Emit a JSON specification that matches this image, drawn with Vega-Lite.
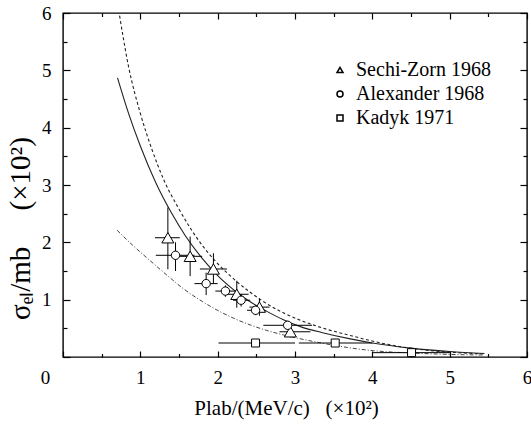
{
  "$schema": "https://vega.github.io/schema/vega-lite/v6.json",
  "width": 464,
  "height": 344,
  "autosize": {"type": "none"},
  "padding": {"left": 63, "top": 13, "right": 4, "bottom": 68},
  "background": "white",
  "config": {
    "view": {"stroke": "#000", "strokeWidth": 1.4},
    "font": "Liberation Serif"
  },
  "datasets": {
    "curves": [
      {"curve": "solid", "x": 0.705, "y": 4.87},
      {"curve": "solid", "x": 0.85, "y": 4.24},
      {"curve": "solid", "x": 1.0, "y": 3.68},
      {"curve": "solid", "x": 1.2, "y": 3.04},
      {"curve": "solid", "x": 1.4, "y": 2.52},
      {"curve": "solid", "x": 1.58, "y": 2.12},
      {"curve": "solid", "x": 1.8, "y": 1.72},
      {"curve": "solid", "x": 2.0, "y": 1.42},
      {"curve": "solid", "x": 2.2, "y": 1.18},
      {"curve": "solid", "x": 2.4, "y": 0.98},
      {"curve": "solid", "x": 2.63, "y": 0.8},
      {"curve": "solid", "x": 2.85, "y": 0.65},
      {"curve": "solid", "x": 3.07, "y": 0.53},
      {"curve": "solid", "x": 3.37, "y": 0.42},
      {"curve": "solid", "x": 3.7, "y": 0.32},
      {"curve": "solid", "x": 4.0, "y": 0.245},
      {"curve": "solid", "x": 4.5, "y": 0.155},
      {"curve": "solid", "x": 5.0, "y": 0.095},
      {"curve": "solid", "x": 5.45, "y": 0.06},
      {"curve": "dashed", "x": 0.72, "y": 6.05},
      {"curve": "dashed", "x": 0.85, "y": 5.05},
      {"curve": "dashed", "x": 1.0, "y": 4.25},
      {"curve": "dashed", "x": 1.15, "y": 3.62},
      {"curve": "dashed", "x": 1.3, "y": 3.1},
      {"curve": "dashed", "x": 1.5, "y": 2.58},
      {"curve": "dashed", "x": 1.65, "y": 2.24},
      {"curve": "dashed", "x": 1.816, "y": 1.92},
      {"curve": "dashed", "x": 2.0, "y": 1.63},
      {"curve": "dashed", "x": 2.2, "y": 1.37},
      {"curve": "dashed", "x": 2.42, "y": 1.13},
      {"curve": "dashed", "x": 2.6, "y": 0.96},
      {"curve": "dashed", "x": 2.85, "y": 0.77},
      {"curve": "dashed", "x": 3.1, "y": 0.625},
      {"curve": "dashed", "x": 3.37, "y": 0.5},
      {"curve": "dashed", "x": 3.7, "y": 0.38},
      {"curve": "dashed", "x": 4.01, "y": 0.275},
      {"curve": "dashed", "x": 4.3, "y": 0.195},
      {"curve": "dashed", "x": 4.66, "y": 0.125},
      {"curve": "dashed", "x": 5.0, "y": 0.085},
      {"curve": "dashed", "x": 5.45, "y": 0.055},
      {"curve": "dashdot", "x": 0.7, "y": 2.21},
      {"curve": "dashdot", "x": 0.9, "y": 1.95},
      {"curve": "dashdot", "x": 1.127, "y": 1.68},
      {"curve": "dashdot", "x": 1.35, "y": 1.42},
      {"curve": "dashdot", "x": 1.558, "y": 1.19},
      {"curve": "dashdot", "x": 1.8, "y": 0.97},
      {"curve": "dashdot", "x": 1.99, "y": 0.82},
      {"curve": "dashdot", "x": 2.2, "y": 0.68},
      {"curve": "dashdot", "x": 2.42, "y": 0.56},
      {"curve": "dashdot", "x": 2.63, "y": 0.465},
      {"curve": "dashdot", "x": 2.85, "y": 0.385},
      {"curve": "dashdot", "x": 3.06, "y": 0.32},
      {"curve": "dashdot", "x": 3.28, "y": 0.26},
      {"curve": "dashdot", "x": 3.5, "y": 0.205},
      {"curve": "dashdot", "x": 3.71, "y": 0.16},
      {"curve": "dashdot", "x": 4.01, "y": 0.11},
      {"curve": "dashdot", "x": 4.5, "y": 0.07},
      {"curve": "dashdot", "x": 5.0, "y": 0.045},
      {"curve": "dashdot", "x": 5.45, "y": 0.035}
    ],
    "pts": [
      {"set": "Sechi-Zorn 1968", "x": 1.356, "y": 2.08, "xlo": 1.19, "xhi": 1.51, "ylo": 1.53, "yhi": 2.61},
      {"set": "Sechi-Zorn 1968", "x": 1.644, "y": 1.756, "xlo": 1.49, "xhi": 1.8, "ylo": 1.41, "yhi": 2.1},
      {"set": "Sechi-Zorn 1968", "x": 1.945, "y": 1.535, "xlo": 1.77, "xhi": 2.12, "ylo": 1.28, "yhi": 1.81},
      {"set": "Sechi-Zorn 1968", "x": 2.247, "y": 1.094, "xlo": 2.1, "xhi": 2.4, "ylo": 0.86, "yhi": 1.33},
      {"set": "Sechi-Zorn 1968", "x": 2.54, "y": 0.87, "xlo": 2.41, "xhi": 2.67, "ylo": 0.72, "yhi": 1.02},
      {"set": "Sechi-Zorn 1968", "x": 2.94, "y": 0.44, "xlo": 2.8, "xhi": 3.2, "ylo": 0.34, "yhi": 0.54},
      {"set": "Alexander 1968", "x": 1.455, "y": 1.774, "xlo": 1.2, "xhi": 1.7, "ylo": 1.5, "yhi": 2.0},
      {"set": "Alexander 1968", "x": 1.851, "y": 1.28, "xlo": 1.7, "xhi": 2.0, "ylo": 1.08, "yhi": 1.47},
      {"set": "Alexander 1968", "x": 2.1, "y": 1.15, "xlo": 1.97, "xhi": 2.23, "ylo": 1.05, "yhi": 1.25},
      {"set": "Alexander 1968", "x": 2.303, "y": 0.99, "xlo": 2.2, "xhi": 2.42, "ylo": 0.88, "yhi": 1.1},
      {"set": "Alexander 1968", "x": 2.49, "y": 0.815, "xlo": 2.38, "xhi": 2.6, "ylo": 0.73, "yhi": 0.9},
      {"set": "Alexander 1968", "x": 2.905, "y": 0.553, "xlo": 2.59, "xhi": 3.22, "ylo": 0.48, "yhi": 0.63},
      {"set": "Kadyk 1971", "x": 2.49, "y": 0.244, "xlo": 2.01, "xhi": 3.0},
      {"set": "Kadyk 1971", "x": 3.52, "y": 0.244, "xlo": 3.05, "xhi": 4.0},
      {"set": "Kadyk 1971", "x": 4.507, "y": 0.076, "xlo": 4.01, "xhi": 5.0}
    ]
  },
  "resolve": {"axis": {"x": "independent", "y": "independent"}},
  "layer": [
    {
      "data": {"name": "curves"},
      "transform": [{"filter": "datum.curve === 'solid'"}],
      "mark": {"type": "line", "interpolate": "monotone", "stroke": "#222", "strokeWidth": 1.1, "clip": true},
      "encoding": {
        "x": {
          "field": "x", "type": "quantitative",
          "scale": {"domain": [0, 6], "nice": false, "zero": false},
          "axis": {
            "orient": "bottom",
            "values": [0, 0.5, 1, 1.5, 2, 2.5, 3, 3.5, 4, 4.5, 5, 5.5, 6],
            "labelExpr": "datum.value % 1 === 0 ? format(datum.value, 'd') : ''",
            "tickSize": {"condition": {"test": "datum.value % 1 === 0", "value": -6}, "value": -3.5},
            "tickColor": "#000", "tickWidth": 1.2,
            "domain": false, "grid": false,
            "labelFont": "Liberation Serif", "labelFontSize": 19, "labelColor": "#000",
            "labelFlush": false, "labelOverlap": false,
            "labelOffset": {"condition": {"test": "datum.value === 0", "value": -18}, "value": 0},
            "labelPadding": 17,
            "title": "Plab/(MeV/c)\u00a0\u00a0\u00a0(×10²)",
            "titleFont": "Liberation Serif", "titleFontSize": 21, "titleFontWeight": "normal", "titleColor": "#000",
            "titleX": 223, "titleAlign": "center",
            "titlePadding": 8
          }
        },
        "y": {
          "field": "y", "type": "quantitative",
          "scale": {"domain": [0, 6], "nice": false, "zero": false},
          "axis": {
            "orient": "left",
            "values": [0, 0.5, 1, 1.5, 2, 2.5, 3, 3.5, 4, 4.5, 5, 5.5, 6],
            "labelExpr": "datum.value % 1 === 0 && datum.value > 0 ? format(datum.value, 'd') : ''",
            "tickSize": {"condition": {"test": "datum.value % 1 === 0", "value": -7}, "value": -4},
            "tickColor": "#000", "tickWidth": 1.2,
            "domain": false, "grid": false,
            "labelFont": "Liberation Serif", "labelFontSize": 19, "labelColor": "#000",
            "labelFlush": false, "labelOverlap": false,
            "labelPadding": 19,
            "title": "σₑₗ/mb\u2003\u00a0(×10²)",
            "titleFont": "Liberation Serif", "titleFontSize": 29, "titleFontWeight": "normal", "titleColor": "#000",
            "titleX": -43, "titleY": 215, "titleAngle": -90, "titleAlign": "center", "titleBaseline": "middle"
          }
        }
      }
    },
    {
      "data": {"name": "curves"},
      "transform": [{"filter": "datum.curve === 'dashed'"}],
      "mark": {"type": "line", "interpolate": "monotone", "stroke": "#222", "strokeWidth": 1.1, "strokeDash": [3, 2.5], "clip": true},
      "encoding": {
        "x": {
          "field": "x", "type": "quantitative",
          "axis": {
            "orient": "top",
            "values": [0, 0.5, 1, 1.5, 2, 2.5, 3, 3.5, 4, 4.5, 5, 5.5, 6],
            "labels": false,
            "tickSize": {"condition": {"test": "datum.value % 1 === 0", "value": -6}, "value": -3.5},
            "tickColor": "#000", "tickWidth": 1.2,
            "domain": false, "grid": false, "title": null
          }
        },
        "y": {
          "field": "y", "type": "quantitative",
          "axis": {
            "orient": "right",
            "values": [0, 0.5, 1, 1.5, 2, 2.5, 3, 3.5, 4, 4.5, 5, 5.5, 6],
            "labels": false,
            "tickSize": {"condition": {"test": "datum.value % 1 === 0", "value": -7}, "value": -4},
            "tickColor": "#000", "tickWidth": 1.2,
            "domain": false, "grid": false, "title": null
          }
        }
      }
    },
    {
      "data": {"name": "curves"},
      "transform": [{"filter": "datum.curve === 'dashdot'"}],
      "mark": {"type": "line", "interpolate": "monotone", "stroke": "#444", "strokeWidth": 1, "strokeDash": [4, 2, 1, 2], "clip": true},
      "encoding": {
        "x": {"field": "x", "type": "quantitative", "axis": null},
        "y": {"field": "y", "type": "quantitative", "axis": null}
      }
    },
    {
      "data": {"name": "pts"},
      "mark": {"type": "rule", "stroke": "#000", "strokeWidth": 1},
      "encoding": {
        "x": {"field": "xlo", "type": "quantitative", "axis": null},
        "x2": {"field": "xhi"},
        "y": {"field": "y", "type": "quantitative", "axis": null}
      }
    },
    {
      "data": {"name": "pts"},
      "transform": [{"filter": "isValid(datum.ylo)"}],
      "mark": {"type": "rule", "stroke": "#000", "strokeWidth": 1},
      "encoding": {
        "x": {"field": "x", "type": "quantitative", "axis": null},
        "y": {"field": "ylo", "type": "quantitative", "axis": null},
        "y2": {"field": "yhi"}
      }
    },
    {
      "data": {"name": "pts"},
      "transform": [{"filter": "datum.set === 'Sechi-Zorn 1968'"}],
      "mark": {"type": "point", "filled": true, "fill": "white", "stroke": "#000", "strokeWidth": 1, "opacity": 1, "size": 144},
      "encoding": {
        "x": {"field": "x", "type": "quantitative", "axis": null},
        "y": {"field": "y", "type": "quantitative", "axis": null},
        "shape": {
          "field": "set", "type": "nominal",
          "scale": {"domain": ["Sechi-Zorn 1968", "Alexander 1968", "Kadyk 1971"], "range": ["triangle-up", "circle", "square"]},
          "legend": {
            "orient": "none", "legendX": 267, "legendY": 47,
            "title": null, "padding": 0,
            "symbolSize": 36,
            "labelFont": "Liberation Serif", "labelFontSize": 20, "labelColor": "#000",
            "labelOffset": 6, "rowPadding": 4,
            "encode": {
              "symbols": {
                "update": {
                  "fill": {"value": "white"},
                  "stroke": {"value": "#000"},
                  "strokeWidth": {"value": 1},
                  "opacity": {"value": 1},
                  "size": {"value": 36}
                }
              }
            }
          }
        }
      }
    },
    {
      "data": {"name": "pts"},
      "transform": [{"filter": "datum.set === 'Alexander 1968'"}],
      "mark": {"type": "point", "filled": true, "fill": "white", "stroke": "#000", "strokeWidth": 1, "opacity": 1, "size": 70},
      "encoding": {
        "x": {"field": "x", "type": "quantitative", "axis": null},
        "y": {"field": "y", "type": "quantitative", "axis": null},
        "shape": {"field": "set", "type": "nominal"}
      }
    },
    {
      "data": {"name": "pts"},
      "transform": [{"filter": "datum.set === 'Kadyk 1971'"}],
      "mark": {"type": "point", "filled": true, "fill": "white", "stroke": "#000", "strokeWidth": 1, "opacity": 1, "size": 64},
      "encoding": {
        "x": {"field": "x", "type": "quantitative", "axis": null},
        "y": {"field": "y", "type": "quantitative", "axis": null},
        "shape": {"field": "set", "type": "nominal"}
      }
    }
  ]
}
